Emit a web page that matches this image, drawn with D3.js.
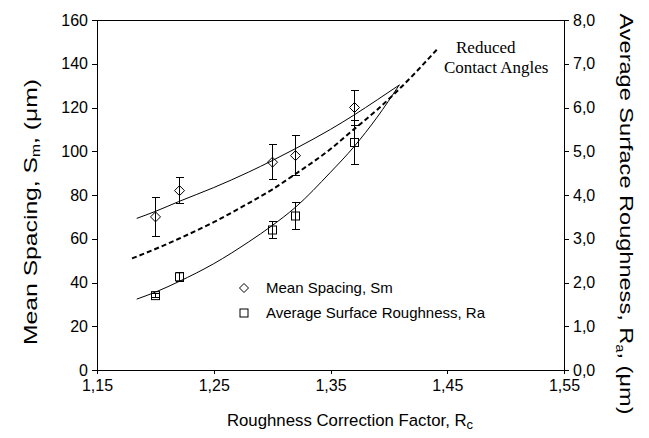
<!DOCTYPE html>
<html>
<head>
<meta charset="utf-8">
<script src="https://cdn.jsdelivr.net/npm/d3@7/dist/d3.min.js"></script>
<style>
  html, body { margin: 0; padding: 0; background: #fff; }
  svg { display: block; }
  text { font-family: "Liberation Sans", Arial, sans-serif; fill: #000; }
</style>
</head>
<body>
<svg id="chart" width="649" height="438"></svg>
<script>
// Measured points: roughness correction factor vs. mean spacing and Ra
const rc = [1.20, 1.22, 1.30, 1.32, 1.37];
const meanSpacing = [70, 82, 95, 98, 120];      // Sm, µm
const meanSpacingErr = [9, 6, 8, 9, 8];
const roughness = [1.70, 2.13, 3.20, 3.52, 5.20]; // Ra, µm
const roughnessErr = [0.05, 0.10, 0.20, 0.30, 0.50];

// Trend curves
const smTrendX = [1.184, 1.20, 1.22, 1.25, 1.28, 1.30, 1.32, 1.35, 1.37, 1.39, 1.409];
const smTrendY = [69.3, 72.5, 77, 83.4, 90.5, 95.7, 101.2, 110, 116.5, 123.5, 130.3];
const raTrendX = [1.184, 1.20, 1.22, 1.25, 1.28, 1.30, 1.32, 1.35, 1.37, 1.39, 1.409];
const raTrendY = [1.62, 1.78, 2.02, 2.43, 2.93, 3.30, 3.72, 4.52, 5.10, 5.78, 6.52];
const contactX = [1.18, 1.20, 1.22, 1.25, 1.28, 1.30, 1.32, 1.35, 1.37, 1.39, 1.41, 1.442];
const contactY = [51, 55.3, 60, 67.6, 76.3, 82.5, 89.6, 101, 110, 119, 129, 147];

// Axis ticks
const xTicks = [1.15, 1.25, 1.35, 1.45, 1.55];
const yLeftTicks = [0, 20, 40, 60, 80, 100, 120, 140, 160];
const yRightTicks = [0, 1, 2, 3, 4, 5, 6, 7, 8];

const svg = d3.select("#chart");
const m = { left: 97, right: 564, top: 20, bottom: 370 };

const locale = d3.formatLocale({ decimal: ",", thousands: ".", grouping: [3], currency: ["", ""] });
const f2 = locale.format(".2f");
const f1 = locale.format(".1f");

const x = d3.scaleLinear().domain([1.15, 1.55]).range([m.left, m.right]);
const yL = d3.scaleLinear().domain([0, 160]).range([m.bottom, m.top]);
const yR = d3.scaleLinear().domain([0, 8]).range([m.bottom, m.top]);

// Frame
svg.append("rect")
  .attr("x", m.left).attr("y", m.top)
  .attr("width", m.right - m.left).attr("height", m.bottom - m.top)
  .attr("fill", "none").attr("stroke", "#000").attr("stroke-width", 1)
  .attr("shape-rendering", "crispEdges");

// Axes
const styleAxis = g => {
  g.select(".domain").remove();
  g.selectAll(".tick line").attr("stroke", "#000").attr("shape-rendering", "crispEdges");
  g.selectAll(".tick text").style("font-size", "16px").style("font-family", "'Liberation Sans', Arial, sans-serif");
};

svg.append("g")
  .attr("transform", `translate(0,${m.bottom})`)
  .call(d3.axisBottom(x).tickValues(xTicks).tickFormat(f2).tickSize(4).tickPadding(6))
  .call(styleAxis);

svg.append("g")
  .attr("transform", `translate(${m.left},0)`)
  .call(d3.axisLeft(yL).tickValues(yLeftTicks).tickFormat(d3.format("d")).tickSize(5).tickPadding(4))
  .call(styleAxis);

svg.append("g")
  .attr("transform", `translate(${m.right},0)`)
  .call(d3.axisRight(yR).tickValues(yRightTicks).tickFormat(f1).tickSize(5).tickPadding(4))
  .call(styleAxis);

// Axis titles
const xTitle = svg.append("text")
  .attr("x", 350).attr("y", 426)
  .attr("text-anchor", "middle").style("font-size", "16.8px");
xTitle.append("tspan").text("Roughness Correction Factor, R");
xTitle.append("tspan").attr("dy", 3).style("font-size", "13px").text("c");

// Vertical titles: drawn slightly elongated along the text direction
const yTitle = svg.append("text")
  .attr("transform", "translate(37,212) rotate(-90) scale(1.3,1)")
  .attr("text-anchor", "middle").style("font-size", "19px");
yTitle.append("tspan").text("Mean Spacing, S");
yTitle.append("tspan").attr("dy", 3).style("font-size", "12px").text("m");
yTitle.append("tspan").attr("dy", -3).text(", (μm)");

const rTitle = svg.append("text")
  .attr("transform", "translate(620,214) rotate(90) scale(1.24,1)")
  .attr("text-anchor", "middle").style("font-size", "19px");
rTitle.append("tspan").text("Average Surface Roughness, R");
rTitle.append("tspan").attr("dy", 4).style("font-size", "12px").text("a");
rTitle.append("tspan").attr("dy", -4).text(", (μm)");

// Trend curves
const lineL = d3.line().x(d => x(d[0])).y(d => yL(d[1])).curve(d3.curveMonotoneX);
const lineR = d3.line().x(d => x(d[0])).y(d => yR(d[1])).curve(d3.curveMonotoneX);

svg.append("path")
  .attr("d", lineL(smTrendX.map((v, i) => [v, smTrendY[i]])))
  .attr("fill", "none").attr("stroke", "#000").attr("stroke-width", 1);

svg.append("path")
  .attr("d", lineR(raTrendX.map((v, i) => [v, raTrendY[i]])))
  .attr("fill", "none").attr("stroke", "#000").attr("stroke-width", 1);

svg.append("path")
  .attr("d", lineL(contactX.map((v, i) => [v, contactY[i]])))
  .attr("fill", "none").attr("stroke", "#000").attr("stroke-width", 2)
  .attr("stroke-dasharray", "5,3");

// Error bars
const cap = 4;
function errorBars(ys, errs, yScale) {
  const g = svg.append("g").attr("stroke", "#000").attr("stroke-width", 1).attr("shape-rendering", "crispEdges");
  rc.forEach((v, i) => {
    const cx = Math.round(x(v)) + 0.5;
    const top = yScale(ys[i] + errs[i]), bot = yScale(ys[i] - errs[i]);
    g.append("line").attr("x1", cx).attr("x2", cx).attr("y1", top).attr("y2", bot);
    g.append("line").attr("x1", cx - cap).attr("x2", cx + cap).attr("y1", top).attr("y2", top);
    g.append("line").attr("x1", cx - cap).attr("x2", cx + cap).attr("y1", bot).attr("y2", bot);
  });
}
errorBars(meanSpacing, meanSpacingErr, yL);
errorBars(roughness, roughnessErr, yR);

// Markers
const diamond = (cx, cy, r) => `M${cx},${cy - r}L${cx + r},${cy}L${cx},${cy + r}L${cx - r},${cy}Z`;
svg.append("g").selectAll("path").data(rc).join("path")
  .attr("d", (v, i) => diamond(Math.round(x(v)) + 0.5, yL(meanSpacing[i]), 5))
  .attr("fill", "none").attr("stroke", "#000").attr("stroke-width", 1);

svg.append("g").selectAll("rect").data(rc).join("rect")
  .attr("x", v => Math.round(x(v)) + 0.5 - 4)
  .attr("y", (v, i) => yR(roughness[i]) - 4)
  .attr("width", 8).attr("height", 8)
  .attr("fill", "none").attr("stroke", "#000").attr("stroke-width", 1);

// Legend
const lg = svg.append("g");
lg.append("path").attr("d", diamond(244, 288, 4.5)).attr("fill", "none").attr("stroke", "#000");
lg.append("rect").attr("x", 240).attr("y", 309).attr("width", 8).attr("height", 8)
  .attr("fill", "none").attr("stroke", "#000");
lg.append("text").attr("x", 266).attr("y", 293).style("font-size", "15px").text("Mean Spacing, Sm");
lg.append("text").attr("x", 266).attr("y", 318).style("font-size", "15px").text("Average Surface Roughness, Ra");

// Annotation for the dashed curve
const ann = svg.append("g").style("font-size", "17px");
ann.append("text").attr("x", 456).attr("y", 53).style("font-family", "'Liberation Serif', 'Times New Roman', serif").text("Reduced");
ann.append("text").attr("x", 444).attr("y", 73).style("font-family", "'Liberation Serif', 'Times New Roman', serif").text("Contact Angles");
</script>
</body>
</html>
